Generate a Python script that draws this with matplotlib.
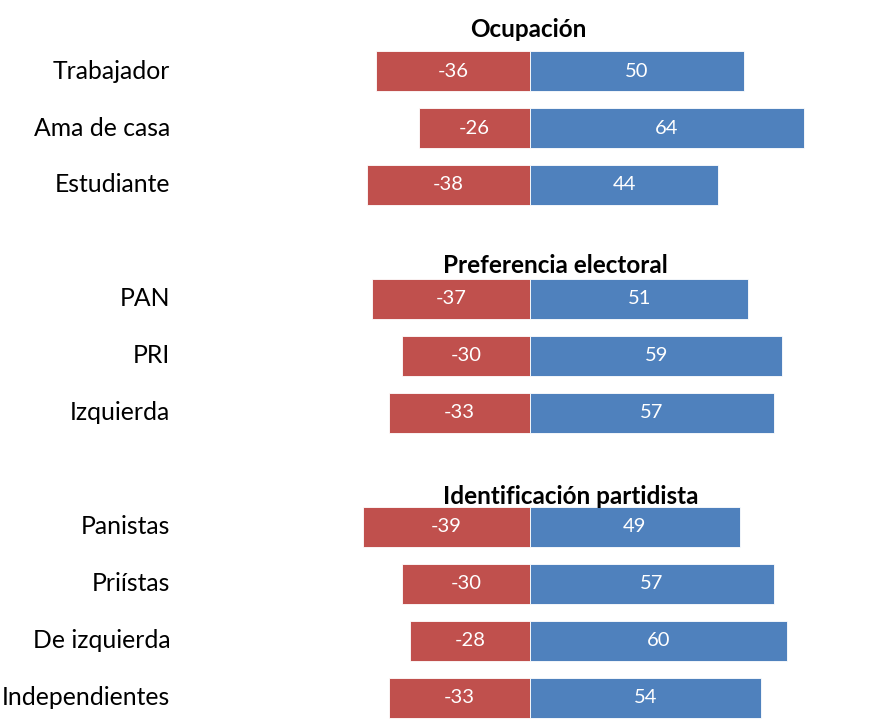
import matplotlib.pyplot as plt

# categories by row (None = blank spacer row used for group titles)
categories = ["Trabajador", "Ama de casa", "Estudiante", None,
              "PAN", "PRI", "Izquierda", None,
              "Panistas", "Priístas", "De izquierda", "Independientes"]
negative = [-36, -26, -38, None, -37, -30, -33, None, -39, -30, -28, -33]
positive = [50, 64, 44, None, 51, 59, 57, None, 49, 57, 60, 54]

group_titles = ["Ocupación", "Preferencia electoral", "Identificación partidista"]
title_rows = [-0.72, 3.42, 7.47]
title_x = [-14.0, -20.3, -20.3]

red = "#C0504D"
blue = "#4F81BD"

plt.rcParams['font.family'] = ['Lato', 'DejaVu Sans']

fig = plt.figure(figsize=(8.84, 7.23), dpi=100)
ax = fig.add_axes([180 / 884, 0, 700 / 884, 1])

for i, cat in enumerate(categories):
    if cat is None:
        continue
    ax.barh(i, negative[i], height=0.7, color=red, edgecolor="white", linewidth=0.6)
    ax.barh(i, positive[i], height=0.7, color=blue, edgecolor="white", linewidth=0.6)
    ax.text(negative[i] / 2, i, str(negative[i]), color="white",
            ha="center", va="center", fontsize=14.5)
    ax.text(positive[i] / 2, i, str(positive[i]), color="white",
            ha="center", va="center", fontsize=14.5)
    ax.text(-84.1, i, cat, ha="right", va="center", fontsize=17.8,
            color="black", clip_on=False)

for t, x, r in zip(group_titles, title_x, title_rows):
    ax.text(x, r, t, ha="left", va="center", fontsize=17.5, fontweight="bold")

ax.set_xlim(-81.8, 81.8)
ax.set_ylim(11.44, -1.246)
ax.axis("off")

fig.savefig("out.png", dpi=100)
